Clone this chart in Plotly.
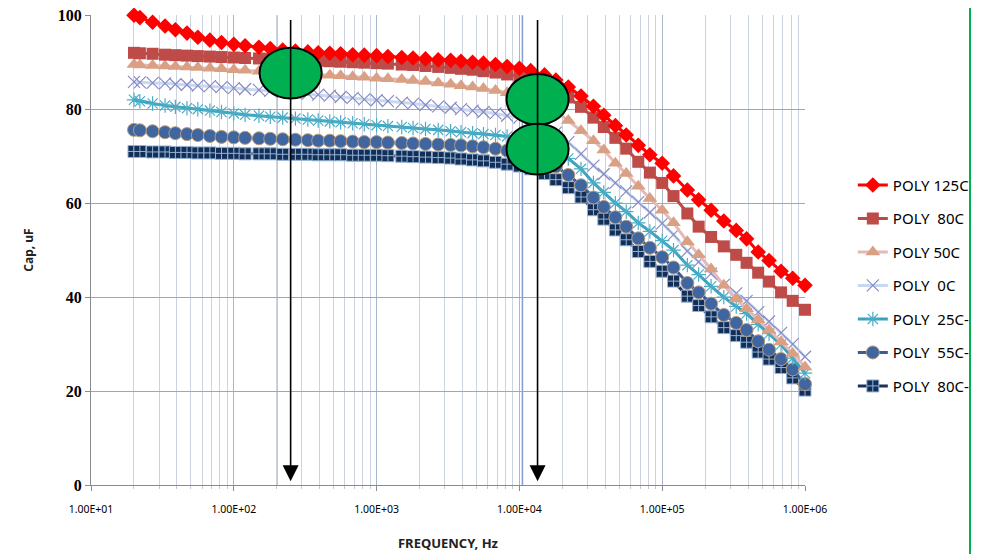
import math
import plotly.graph_objects as go

# ---------------- data ----------------
freq = [20, 22, 27, 33, 39, 47, 56, 68, 82,
        100, 120, 150, 180, 220, 270, 330, 390, 470, 560, 680, 820,
        1000, 1200, 1500, 1800, 2200, 2700, 3300, 3900, 4700, 5600, 6800, 8200,
        10000, 12000, 15000, 18000, 22000, 27000, 33000, 39000, 47000, 56000, 68000, 82000,
        100000, 120000, 150000, 180000, 220000, 270000, 330000, 390000, 470000, 560000, 680000, 820000,
        1000000]

poly_125c = [100.0, 99.5, 98.5, 97.7, 96.9, 96.2, 95.3, 94.7, 94.2,
             93.8, 93.5, 93.2, 92.9, 92.6, 92.4, 92.2, 92.0, 91.9, 91.8, 91.6, 91.5,
             91.4, 91.2, 91.0, 90.9, 90.7, 90.5, 90.4, 90.2, 90.0, 89.8, 89.5, 89.1,
             88.7, 88.2, 87.3, 86.2, 84.7, 82.8, 80.6, 78.7, 76.5, 74.5, 72.3, 70.3,
             68.5, 65.8, 62.8, 60.7, 58.5, 56.2, 54.2, 52.4, 49.6, 47.8, 45.5, 44.0,
             42.5]
poly_80c = [92.0, 91.9, 91.8, 91.6, 91.5, 91.4, 91.3, 91.2, 91.1,
            91.0, 90.9, 90.8, 90.7, 90.6, 90.5, 90.4, 90.3, 90.2, 90.1, 90.0, 89.9,
            89.8, 89.7, 89.5, 89.4, 89.2, 89.0, 88.8, 88.6, 88.4, 88.1, 87.8, 87.4,
            87.0, 86.4, 85.4, 84.2, 82.5, 80.5, 78.2, 76.2, 73.9, 71.6, 68.8, 66.5,
            64.3, 61.5, 57.8, 55.0, 52.8, 50.8, 49.0, 47.3, 45.2, 43.3, 41.0, 39.2,
            37.3]
poly_50c = [89.5, 89.4, 89.3, 89.2, 89.1, 89.0, 88.9, 88.7, 88.6,
            88.4, 88.3, 88.1, 88.0, 87.8, 87.7, 87.5, 87.4, 87.2, 87.1, 86.9, 86.8,
            86.6, 86.5, 86.3, 86.1, 85.9, 85.6, 85.3, 85.0, 84.7, 84.4, 84.0, 83.5,
            83.0, 82.2, 81.0, 79.6, 77.6, 75.4, 73.3, 71.3, 68.5, 66.3, 63.6, 61.0,
            58.5, 55.8, 51.8, 49.0, 46.0, 42.5, 39.6, 37.5, 35.2, 33.0, 30.5, 28.0,
            25.1]
poly_0c = [85.8, 85.7, 85.6, 85.5, 85.3, 85.2, 85.0, 84.9, 84.7,
           84.5, 84.3, 84.1, 83.9, 83.7, 83.5, 83.3, 83.1, 82.9, 82.6, 82.4, 82.1,
           81.9, 81.7, 81.4, 81.2, 80.9, 80.6, 80.3, 80.0, 79.7, 79.4, 79.1, 78.6,
           78.2, 77.6, 76.6, 75.0, 73.0, 70.5, 68.0, 66.2, 64.3, 62.5, 60.2, 58.0,
           55.7, 53.3, 49.8, 47.5, 45.0, 42.6, 40.8, 39.2, 36.8, 34.8, 32.4, 30.0,
           27.3]
poly_25c_neg = [82.0, 81.7, 81.2, 80.8, 80.5, 80.2, 80.0, 79.7, 79.4,
                79.1, 78.8, 78.6, 78.4, 78.2, 78.0, 77.8, 77.6, 77.4, 77.2, 77.0, 76.8,
                76.6, 76.4, 76.2, 76.0, 75.8, 75.6, 75.3, 75.1, 74.9, 74.7, 74.5, 74.2,
                73.9, 73.4, 72.5, 71.3, 69.5, 67.3, 64.3, 62.3, 60.0, 58.2, 55.8, 54.0,
                52.0, 50.0, 46.8, 44.8, 42.3, 40.0, 38.0, 36.5, 34.2, 32.2, 29.9, 27.0,
                23.8]
poly_55c_neg = [75.6, 75.5, 75.3, 75.1, 74.9, 74.7, 74.5, 74.3, 74.1,
                74.0, 73.9, 73.8, 73.7, 73.6, 73.5, 73.4, 73.3, 73.3, 73.2, 73.1, 73.0,
                73.0, 72.9, 72.8, 72.7, 72.6, 72.5, 72.4, 72.3, 72.1, 71.9, 71.6, 71.2,
                70.8, 70.2, 69.2, 67.8, 66.0, 63.8, 61.2, 59.2, 57.0, 55.0, 52.5, 50.5,
                48.5, 46.3, 43.0, 41.0, 38.6, 36.2, 34.5, 33.0, 30.6, 28.8, 26.8, 24.6,
                21.5]
poly_80c_neg = [71.0, 71.0, 70.9, 70.9, 70.8, 70.8, 70.7, 70.7, 70.6,
                70.6, 70.5, 70.5, 70.5, 70.4, 70.4, 70.4, 70.3, 70.3, 70.3, 70.2, 70.2,
                70.2, 70.1, 70.0, 69.9, 69.8, 69.7, 69.6, 69.4, 69.2, 69.0, 68.7, 68.3,
                67.9, 67.3, 66.3, 65.0, 63.3, 61.3, 58.6, 56.6, 54.3, 52.2, 49.7, 47.6,
                45.5, 43.4, 40.2, 38.2, 35.8, 33.5, 31.8, 30.4, 28.3, 26.8, 25.0, 22.8,
                20.2]

series_names = ["POLY 125C", "POLY\u00a0 80C", "POLY 50C", "POLY\u00a0 0C",
                "POLY\u00a0 25C-", "POLY\u00a0 55C-", "POLY\u00a0 80C-"]

x_tick_vals = [10, 100, 1000, 10000, 100000, 1000000]
x_tick_text = ["1.00E+01", "1.00E+02", "1.00E+03", "1.00E+04", "1.00E+05", "1.00E+06"]
x_minor_vals = [m * d for d in [10, 100, 1000, 10000, 100000] for m in range(2, 10)]
y_tick_vals = [0, 20, 40, 60, 80, 100]
y_tick_text = ["<b>0</b>", "<b>20</b>", "<b>40</b>", "<b>60</b>", "<b>80</b>", "<b>100</b>"]

# highlighted points: arrows at these frequencies, ellipses at (freq, cap)
arrow_freqs = [250, 13400]
circle_marks = [(250, 87.7), (13400, 82.1), (13400, 71.5)]
blue_line_freqs = [200, 10500]

# ---------------- styles ----------------
styles = [
    dict(line=dict(color="#FF0000", width=3),
         marker=dict(symbol="diamond", size=12, color="#FF0000")),
    dict(line=dict(color="#B94A48", width=3),
         marker=dict(symbol="square", size=12, color="#BE4B48")),
    dict(line=dict(color="#E6B9B8", width=3),
         marker=dict(symbol="triangle-up", size=13, color="#D9A083")),
    dict(line=dict(color="#C6D9F1", width=3),
         marker=dict(symbol="x-thin-open", size=12, color="#8A8AC4",
                     line=dict(color="#8A8AC4", width=1.2))),
    dict(line=dict(color="#37A2BC", width=3),
         marker=dict(symbol="asterisk-open", size=12, color="#4BACC6",
                     line=dict(color="#4BACC6", width=1.2))),
    dict(line=dict(color="#3B5E8E", width=3),
         marker=dict(symbol="circle", size=13, color="#3F66A0",
                     line=dict(color="#B89A78", width=1))),
    dict(line=dict(color="#1B3358", width=3),
         marker=dict(symbol="square-cross", size=12, color="#132F57",
                     line=dict(color="#95B3D7", width=1))),
]

data = [poly_125c, poly_80c, poly_50c, poly_0c, poly_25c_neg, poly_55c_neg, poly_80c_neg]

fig = go.Figure()
# draw in reverse order so that the first series lies on top
for i in reversed(range(len(data))):
    fig.add_trace(go.Scatter(
        x=freq, y=data[i], name=series_names[i], mode="lines+markers",
        legendgroup=f"g{i}", legendrank=i + 1,
        line=styles[i]["line"], marker=styles[i]["marker"],
        cliponaxis=False,
    ))

shapes = []
for f in blue_line_freqs:
    shapes.append(dict(type="line", xref="x", yref="y", x0=f, x1=f, y0=0, y1=100,
                       line=dict(color="#7E9FCF", width=1.5), layer="below"))
ell_ratio = 1.65   # half-width of the ellipse in frequency ratio
ell_half_h = 5.4   # half-height in uF
for f, c in circle_marks:
    shapes.append(dict(type="circle", xref="x", yref="y",
                       x0=f / ell_ratio, x1=f * ell_ratio,
                       y0=c - ell_half_h, y1=c + ell_half_h,
                       fillcolor="#00B050", line=dict(color="black", width=2),
                       layer="above"))
# green vertical border line at right
shapes.append(dict(type="line", xref="paper", yref="paper", x0=1.2311, x1=1.2311,
                   y0=-0.147, y1=1.02, line=dict(color="#00B050", width=2)))

annotations = []
for f in arrow_freqs:
    lx = math.log10(f)
    annotations.append(dict(x=lx, y=0.8, xref="x", yref="y", ax=lx, ay=99.3,
                            axref="x", ayref="y", text="", showarrow=True,
                            arrowhead=2, arrowsize=2, arrowwidth=1.6,
                            arrowcolor="black"))

# the page body adds an 8 px offset, so the figure is 8 px smaller each way
fig.update_layout(
    width=977, height=546,
    margin=dict(l=83, r=180, t=7, b=69, autoexpand=False),
    paper_bgcolor="white", plot_bgcolor="white",
    showlegend=True,
    legend=dict(x=1.067, y=0.673, xanchor="left", yanchor="top",
                font=dict(family="Noto Sans", size=15, color="black"),
                tracegroupgap=11, bgcolor="rgba(0,0,0,0)"),
    shapes=shapes,
    annotations=annotations,
    xaxis=dict(type="log", range=[1, 6],
               tickmode="array", tickvals=x_tick_vals, ticktext=x_tick_text,
               tickfont=dict(family="Noto Sans", size=10.5, color="black"),
               ticks="outside", ticklen=5, tickcolor="#8A8A8A",
               ticklabelstandoff=9,
               showgrid=True, gridcolor="#A8B6CB", gridwidth=1,
               minor=dict(tickmode="array", tickvals=x_minor_vals, showgrid=True,
                          gridcolor="#CDD3DE", gridwidth=1, ticks="outside",
                          ticklen=3, tickcolor="#C8C8C8"),
               showline=True, linecolor="#8A8A8A", linewidth=1,
               zeroline=False, automargin=False,
               title=dict(text="<b>FREQUENCY, Hz</b>",
                          font=dict(family="Noto Sans", size=13, color="#222"),
                          standoff=24)),
    yaxis=dict(range=[0, 100.05], tickmode="array",
               tickvals=y_tick_vals, ticktext=y_tick_text,
               tickfont=dict(family="Liberation Serif", size=16, color="black"),
               ticklabeloverflow="allow",
               ticks="outside", ticklen=5, tickcolor="#8A8A8A",
               showgrid=True, gridcolor="#8FAAD0", gridwidth=1,
               showline=True, linecolor="#8A8A8A", linewidth=1,
               zeroline=False, automargin=False,
               title=dict(text="<b>Cap, uF</b>",
                          font=dict(family="Noto Sans", size=12, color="#222"),
                          standoff=21)),
)

fig.write_html("out.html")
